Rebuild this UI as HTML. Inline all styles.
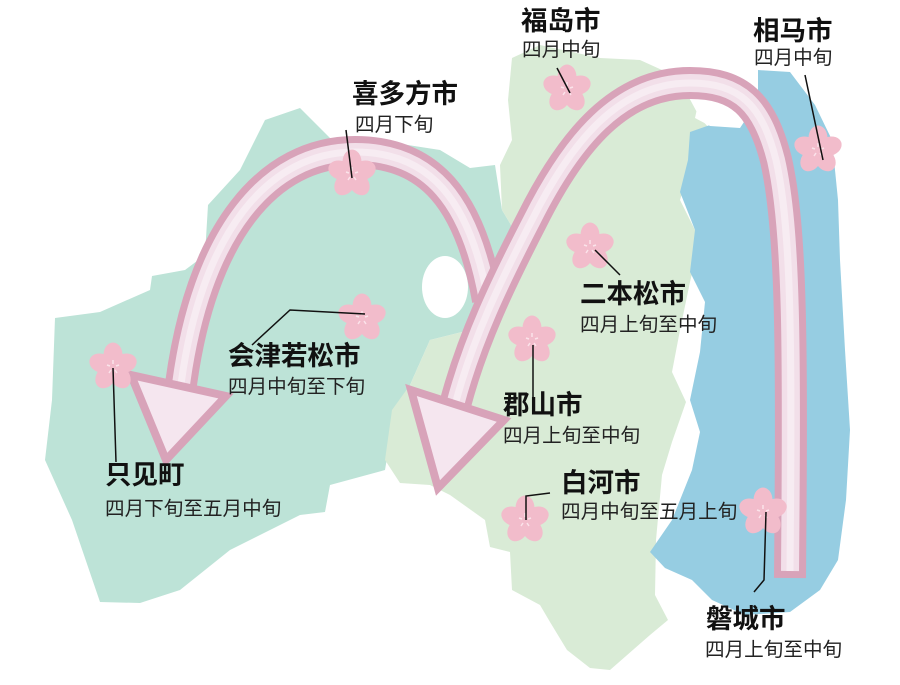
<!DOCTYPE html>
<html><head><meta charset="utf-8"><style>
html,body{margin:0;padding:0;background:#fff}
svg{display:block}
.b{font-family:"Liberation Sans","Noto Sans CJK SC",sans-serif;font-weight:bold;font-size:26.5px;fill:#111}
.s{font-family:"Liberation Sans","Noto Sans CJK SC",sans-serif;font-size:19.6px;fill:#222}
</style></head><body>
<svg width="900" height="685" viewBox="0 0 900 685" xmlns="http://www.w3.org/2000/svg">
<defs>
<g id="f">
<g fill="#f2bccb">
<ellipse cx="0" cy="-12" rx="9.5" ry="12.5"/>
<ellipse cx="0" cy="-12" rx="9.5" ry="12.5" transform="rotate(72)"/>
<ellipse cx="0" cy="-12" rx="9.5" ry="12.5" transform="rotate(144)"/>
<ellipse cx="0" cy="-12" rx="9.5" ry="12.5" transform="rotate(216)"/>
<ellipse cx="0" cy="-12" rx="9.5" ry="12.5" transform="rotate(288)"/>
<circle r="9"/>
</g>
<g stroke="#fbe3ea" stroke-width="1.5"><line x1="0" y1="-3" x2="0" y2="-7"/><line x1="3" y1="-1" x2="6" y2="-2"/><line x1="-3" y1="-1" x2="-6" y2="-2"/><line x1="2" y1="3" x2="4" y2="6"/><line x1="-2" y1="3" x2="-4" y2="6"/></g>
</g>
</defs>
<path fill="#bde3d7" d="M55,318 L100,312 L150,290 L152,276 L185,270 L205,255 L208,205 L240,170 L265,120 L300,108 L330,138 L360,150 L395,143 L440,150 L470,168 L495,165 L502,210 L520,240 L505,290 L470,330 L430,340 L410,385 L390,440 L385,470 L330,485 L325,512 L300,515 L230,550 L180,590 L140,603 L100,602 L72,520 L45,460 L52,400 Z"/>
<path fill="#d9ebd6" d="M512,58 L540,45 L600,58 L640,60 L662,70 L685,90 L700,118 L720,140 L690,168 L680,200 L700,240 L690,282 L680,330 L672,372 L686,402 L672,442 L662,475 L656,540 L655,595 L668,620 L650,635 L610,670 L590,668 L567,650 L550,622 L540,605 L512,590 L510,552 L490,547 L485,520 L450,495 L430,485 L400,483 L385,460 L392,410 L410,385 L430,340 L470,330 L505,290 L520,240 L502,210 L500,165 L512,140 L508,100 Z"/>
<path fill="#96cde2" d="M690,132 L710,125 L740,125 L758,100 L758,70 L790,72 L815,105 L832,140 L838,200 L840,260 L845,350 L850,430 L846,500 L838,560 L820,590 L790,612 L745,615 L712,600 L692,580 L665,568 L650,552 L672,520 L692,470 L700,432 L690,400 L700,352 L705,302 L690,272 L695,230 L680,192 L688,160 Z"/>
<path fill="#fff" d="M700,95 L740,95 L752,110 L740,128 L710,126 L695,118 Z"/>
<ellipse cx="445" cy="287" rx="23" ry="31" fill="#fff"/>
<path d="M488,300 C470,200 430,152 355,152 C270,152 200,230 180,392" fill="none" stroke="#d8a3b9" stroke-width="32"/>
<path d="M488,300 C470,200 430,152 355,152 C270,152 200,230 180,392" fill="none" stroke="#f2dfe9" stroke-width="18"/>
<path d="M488,300 C470,200 430,152 355,152 C270,152 200,230 180,392" fill="none" stroke="#f7ecf2" stroke-width="7"/>
<polygon points="131,375 226,396 166,460" fill="#f5e6ef" stroke="#d8a3b9" stroke-width="8"/>
<path d="M790,578 C792,350 792,230 776,160 C762,105 740,83 690,83 C620,83 572,140 532,220 C500,282 472,340 455,405" fill="none" stroke="#d8a3b9" stroke-width="32"/>
<path d="M790,571 C792,350 792,230 776,160 C762,105 740,83 690,83 C620,83 572,140 532,220 C500,282 472,340 455,405" fill="none" stroke="#f2dfe9" stroke-width="18"/>
<path d="M790,571 C792,350 792,230 776,160 C762,105 740,83 690,83 C620,83 572,140 532,220 C500,282 472,340 455,405" fill="none" stroke="#f7ecf2" stroke-width="7"/>
<polygon points="411,390 504,420 438,488" fill="#f5e6ef" stroke="#d8a3b9" stroke-width="8"/>
<use href="#f" x="567" y="89"/>
<use href="#f" x="352" y="174"/>
<use href="#f" x="362" y="318"/>
<use href="#f" x="113" y="367"/>
<use href="#f" x="590" y="247"/>
<use href="#f" x="532" y="340"/>
<use href="#f" x="525" y="520"/>
<use href="#f" x="763" y="512"/>
<use href="#f" x="818" y="150"/>
<g stroke="#111" stroke-width="1.5" fill="none">
<line x1="557" y1="68" x2="570" y2="93"/>
<line x1="346" y1="130" x2="352" y2="178"/>
<line x1="805" y1="75" x2="823" y2="160"/>
<line x1="595" y1="250" x2="620" y2="275"/>
<polyline points="252,345 290,310 365,314"/>
<line x1="113" y1="368" x2="116" y2="462"/>
<line x1="533" y1="345" x2="533" y2="397"/>
<polyline points="550,493 526,496 526,520"/>
<polyline points="766,512 764,580 754,592"/>
</g>
<text class="b" x="521" y="30">福岛市</text><text class="s" x="522" y="56">四月中旬</text>
<text class="b" x="753" y="40">相马市</text><text class="s" x="754" y="64">四月中旬</text>
<text class="b" x="352" y="103">喜多方市</text><text class="s" x="355" y="131">四月下旬</text>
<text class="b" x="580" y="303">二本松市</text><text class="s" x="580" y="331">四月上旬至中旬</text>
<text class="b" x="228" y="365">会津若松市</text><text class="s" x="228" y="393">四月中旬至下旬</text>
<text class="b" x="503" y="414">郡山市</text><text class="s" x="503" y="442">四月上旬至中旬</text>
<text class="b" x="105" y="484">只见町</text><text class="s" x="105" y="515">四月下旬至五月中旬</text>
<text class="b" x="561" y="492">白河市</text><text class="s" x="561" y="518">四月中旬至五月上旬</text>
<text class="b" x="706" y="628">磐城市</text><text class="s" x="705" y="656">四月上旬至中旬</text>
</svg>
</body></html>
